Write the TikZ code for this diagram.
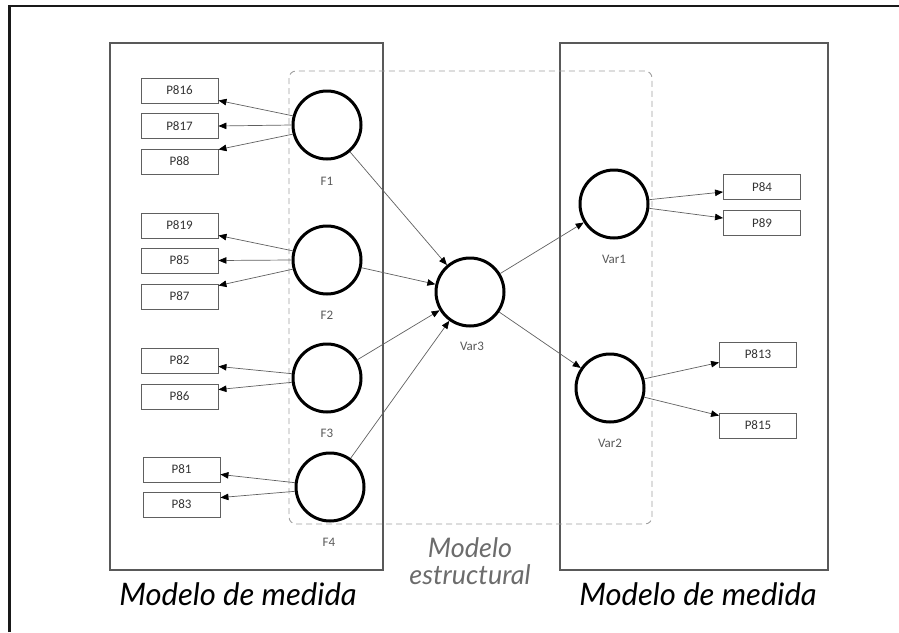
\documentclass[tikz,border=0pt]{standalone}
\usepackage{fontspec}
\setmainfont{Carlito}
\newfontfamily\handfont{Lato}
\usetikzlibrary{arrows.meta,calc}

\tikzset{
  latent/.style={circle, draw=black, line width=3pt, minimum size=68pt, inner sep=0pt},
  item/.style={rectangle, draw=gray!75!black, line width=0.9pt, minimum width=77pt,
               minimum height=25pt, inner sep=0pt, font=\fontsize{13}{15}\selectfont, text=black!80},
  tag/.style={font=\fontsize{13}{15}\selectfont, text=black!65},
  link/.style={draw=gray!75!black, line width=0.7pt,
               -{Triangle[length=8pt,width=6.5pt,color=black,fill=black]}},
  block/.style={draw=gray!70!black, line width=1.1pt},
  bigtext/.style={font=\handfont\itshape\fontsize{31}{34}\selectfont}
}

\begin{document}
\begin{tikzpicture}[x=1pt,y=-1pt]
\useasboundingbox (0,0) rectangle (899,632);

% frame along the top and left edges
\draw[line width=2.4pt, black!90] (9.5,632) -- (9.5,6) -- (899,6);

% the two measurement blocks
\draw[block] (110,43) rectangle (383,570);
\draw[block] (560,43) rectangle (828,570);

% structural model region
\draw[gray!75, dashed, dash pattern=on 6pt off 4pt, line width=0.9pt, rounded corners=7pt]
  (289,71) rectangle (652,524);

% latent variables
\node[latent] (F1)   at (327,125) {};
\node[latent] (F2)   at (327,260) {};
\node[latent] (F3)   at (327,378) {};
\node[latent] (F4)   at (330,487) {};
\node[latent] (Var3) at (470,292) {};
\node[latent] (Var1) at (614,204) {};
\node[latent] (Var2) at (610,388) {};

\node[tag] at (327,181) {F1};
\node[tag] at (327,315) {F2};
\node[tag] at (327,433) {F3};
\node[tag] at (329,542) {F4};
\node[tag] at (472,346) {Var3};
\node[tag] at (614,259) {Var1};
\node[tag] at (610,443) {Var2};

% observed indicators
\node[item] (P816) at (179.5,90.5) {P816};
\node[item] (P817) at (179.5,126) {P817};
\node[item] (P88)  at (179.5,161.5) {P88};
\node[item] (P819) at (179.5,225.5) {P819};
\node[item] (P85)  at (179.5,260.5) {P85};
\node[item] (P87)  at (179.5,296.5) {P87};
\node[item] (P82)  at (179.5,360.5) {P82};
\node[item] (P86)  at (179.5,396.5) {P86};
\node[item] (P81)  at (181.5,469.5) {P81};
\node[item] (P83)  at (181.5,504.5) {P83};
\node[item] (P84)  at (762,187) {P84};
\node[item] (P89)  at (762,223) {P89};
\node[item] (P813) at (758,354.5) {P813};
\node[item] (P815) at (758,425.5) {P815};

% measurement links
\draw[link] (F1.165) -- ($(P816.south east)+(0,-3)$);
\draw[link] (F1.180) -- (P817.east);
\draw[link] (F1.195) -- ($(P88.north east)+(0,1)$);
\draw[link] (F2.165) -- ($(P819.south east)+(0,-3)$);
\draw[link] (F2.180) -- (P85.east);
\draw[link] (F2.195) -- ($(P87.north east)+(0,2)$);
\draw[link] (F3.173) -- ($(P82.south east)+(0,-7)$);
\draw[link] (F3.187) -- ($(P86.north east)+(0,6)$);
\draw[link] (F4.173) -- ($(P81.south east)+(0,-8)$);
\draw[link] (F4.187) -- ($(P83.north east)+(0,6)$);
\draw[link] (Var1.7)  -- ($(P84.south west)+(0,-8)$);
\draw[link] (Var1.-7) -- ($(P89.north west)+(0,8)$);
\draw[link] (Var2.15) -- ($(P813.south west)+(0,-5)$);
\draw[link] (Var2.-15) -- ($(P815.north west)+(0,3)$);

% structural links
\draw[link] (F1) -- (Var3);
\draw[link] (F2) -- (Var3);
\draw[link] (F3) -- (Var3);
\draw[link] (F4) -- (Var3);
\draw[link] (Var3) -- (Var1);
\draw[link] (Var3) -- (Var2);

% block captions
\node[bigtext] at (238,594) {Modelo de medida};
\node[bigtext] at (698,594) {Modelo de medida};
\node[text=gray!85!black, align=center, font=\handfont\itshape\fontsize{27}{27}\selectfont]
  at (470,561) {Modelo\\estructural};
\end{tikzpicture}
\end{document}
